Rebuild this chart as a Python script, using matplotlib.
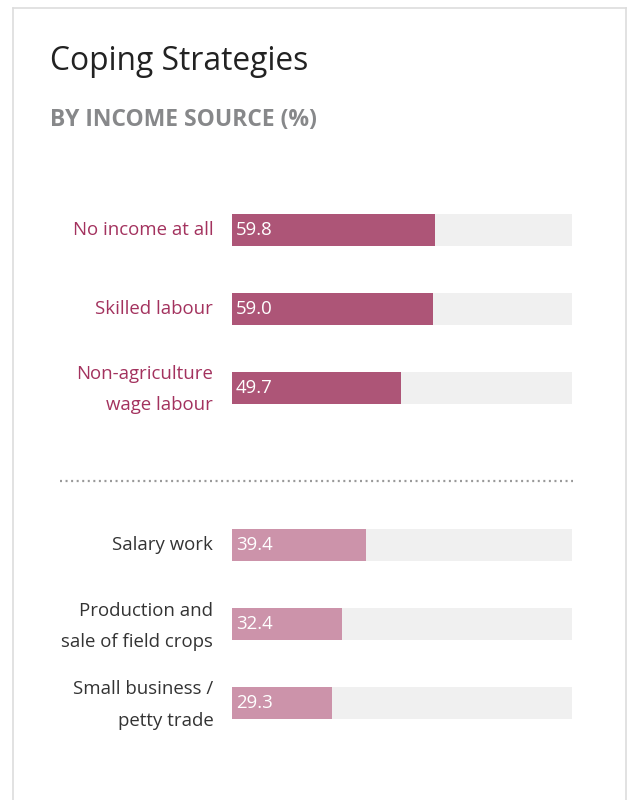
import matplotlib.pyplot as plt
from matplotlib.lines import Line2D

plt.rcParams['font.family'] = ['Open Sans', 'DejaVu Sans']

# top group and bottom group of income sources
top_labels = ['No income at all', 'Skilled labour', 'Non-agriculture\nwage labour']
top_values = [59.8, 59.0, 49.7]
bottom_labels = ['Salary work', 'Production and\nsale of field crops', 'Small business /\npetty trade']
bottom_values = [39.4, 32.4, 29.3]

W, H = 627, 800
fig = plt.figure(figsize=(W / 100, H / 100), dpi=100)

# light card border
border = '#dddddd'
fig.add_artist(Line2D([13 / W, 13 / W], [0, 1 - 8 / H], color=border, lw=1.2))
fig.add_artist(Line2D([13 / W, 1], [1 - 8 / H, 1 - 8 / H], color=border, lw=1.2))
fig.add_artist(Line2D([625.5 / W, 625.5 / W], [0, 1 - 8 / H], color=border, lw=1.2))

fig.text(50 / W, 1 - 61 / H, 'Coping Strategies', fontsize=22.9, color='#222222', va='center')
fig.text(50 / W, 1 - 120 / H, 'BY INCOME SOURCE (%)', fontsize=16.5, fontweight='bold',
         color='#87888a', va='center')

ax = fig.add_axes([232 / W, 1 - 742.5 / H, 340 / W, 552 / H])

dark, light, track = '#ad5577', '#cc93aa', '#f0f0f0'
pos_top = [0, 1, 2]
pos_bottom = [4, 5, 6]
bh = 32 / 79

ax.barh(pos_top + pos_bottom, [100] * 6, height=bh, color=track)
ax.barh(pos_top, top_values, height=bh, color=dark)
ax.barh(pos_bottom, bottom_values, height=bh, color=light)

for p, v in zip(pos_top + pos_bottom, top_values + bottom_values):
    ax.text(1.1, p, f'{v:.1f}', color='white', fontsize=13.4, va='center', ha='left')


def side_label(p, lab, color):
    # two-line labels sit a touch low with va='center'
    dy = 0.025 if '\n' in lab else 0
    ax.text(-5.5, p + dy, lab, color=color, fontsize=13.4, va='center', ha='right',
            linespacing=1.95)


for p, lab in zip(pos_top, top_labels):
    side_label(p, lab, '#a3325e')
for p, lab in zip(pos_bottom, bottom_labels):
    side_label(p, lab, '#333333')

# dotted divider between the two groups
ax.plot([-0.506, 1.003], [3.18, 3.18], transform=ax.get_yaxis_transform(),
        color='#999999', lw=1.6, linestyle=(0, (0.9, 1.6)), clip_on=False)

ax.set_xlim(0, 100)
ax.set_ylim(6.5, -0.5)
ax.axis('off')

fig.savefig('out.png', dpi=100)
